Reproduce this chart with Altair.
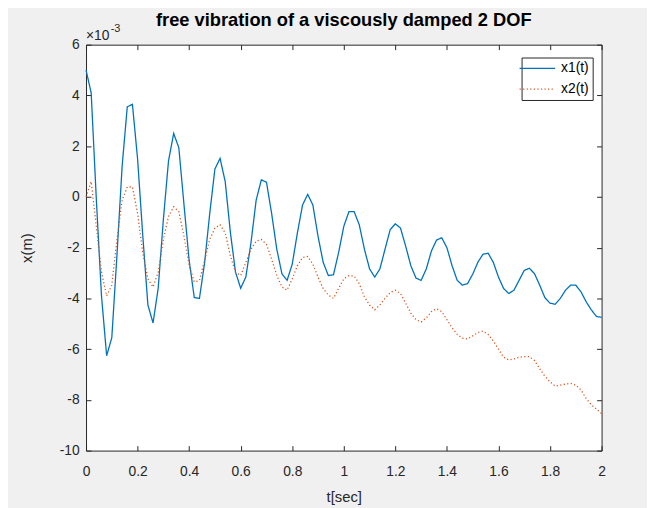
import altair as alt
import pandas as pd

# ---------------- data (displacements in units of 1e-3 m) ----------------
t_sec = [0.00, 0.02, 0.04, 0.06, 0.08, 0.10, 0.12, 0.14, 0.16, 0.18,
         0.20, 0.22, 0.24, 0.26, 0.28, 0.30, 0.32, 0.34, 0.36, 0.38,
         0.40, 0.42, 0.44, 0.46, 0.48, 0.50, 0.52, 0.54, 0.56, 0.58,
         0.60, 0.62, 0.64, 0.66, 0.68, 0.70, 0.72, 0.74, 0.76, 0.78,
         0.80, 0.82, 0.84, 0.86, 0.88, 0.90, 0.92, 0.94, 0.96, 0.98,
         1.00, 1.02, 1.04, 1.06, 1.08, 1.10, 1.12, 1.14, 1.16, 1.18,
         1.20, 1.22, 1.24, 1.26, 1.28, 1.30, 1.32, 1.34, 1.36, 1.38,
         1.40, 1.42, 1.44, 1.46, 1.48, 1.50, 1.52, 1.54, 1.56, 1.58,
         1.60, 1.62, 1.64, 1.66, 1.68, 1.70, 1.72, 1.74, 1.76, 1.78,
         1.80, 1.82, 1.84, 1.86, 1.88, 1.90, 1.92, 1.94, 1.96, 1.98,
         2.00]

x1_vals = [5.0, 4.1, -0.1, -3.9, -6.26, -5.55, -2.3, 1.2, 3.55, 3.65,
           1.5, -1.5, -4.26, -4.97, -3.6, -0.9, 1.42, 2.5, 1.94, -0.3,
           -2.5, -3.97, -4.0, -2.6, -0.65, 1.1, 1.52, 0.6, -1.4, -2.97,
           -3.6, -3.16, -1.8, -0.13, 0.67, 0.58, -0.65, -2.06, -3.03, -3.29,
           -2.65, -1.42, -0.32, 0.1, -0.32, -1.55, -2.58, -3.1, -3.07, -2.19,
           -1.16, -0.58, -0.58, -1.1, -2.06, -2.84, -3.16, -2.84, -2.06, -1.29,
           -1.06, -1.23, -1.94, -2.71, -3.2, -3.29, -2.84, -2.13, -1.7, -1.61,
           -2.0, -2.71, -3.29, -3.48, -3.42, -3.05, -2.58, -2.26, -2.22, -2.58,
           -3.16, -3.61, -3.81, -3.68, -3.29, -2.9, -2.81, -3.03, -3.48, -3.97,
           -4.19, -4.23, -4.0, -3.68, -3.48, -3.48, -3.74, -4.13, -4.45, -4.71,
           -4.75]

x2_vals = [0.0, 0.6, -1.16, -2.97, -3.9, -3.48, -1.68, -0.13, 0.39, 0.39,
           -0.65, -2.19, -3.23, -3.55, -2.97, -1.68, -0.77, -0.39, -0.58, -1.55,
           -2.71, -3.35, -3.3, -2.5, -1.68, -1.23, -1.1, -1.42, -2.32, -2.97,
           -3.1, -2.58, -2.06, -1.74, -1.68, -1.87, -2.45, -3.1, -3.55, -3.68,
           -3.23, -2.71, -2.39, -2.35, -2.65, -3.16, -3.61, -3.87, -4.0, -3.61,
           -3.23, -3.1, -3.12, -3.42, -3.94, -4.26, -4.45, -4.26, -4.0, -3.77,
           -3.68, -3.81, -4.19, -4.58, -4.84, -4.93, -4.77, -4.52, -4.41, -4.52,
           -4.84, -5.16, -5.42, -5.57, -5.6, -5.48, -5.35, -5.29, -5.42, -5.68,
           -6.0, -6.32, -6.43, -6.39, -6.32, -6.3, -6.3, -6.45, -6.77, -7.07,
           -7.29, -7.46, -7.42, -7.38, -7.35, -7.42, -7.61, -7.94, -8.19, -8.36,
           -8.54]

series_names = ["x1(t)", "x2(t)"]
series_colors = ["#0072BD", "#D95319"]
x_ticks = [0, 0.2, 0.4, 0.6, 0.8, 1, 1.2, 1.4, 1.6, 1.8, 2]
y_ticks = [-10, -8, -6, -4, -2, 0, 2, 4, 6]
title_text = ["free vibration of a viscously damped 2 DOF"]
x_title = "t[sec]"
y_title = "x(m)"
exp_base = ["\u00d710"]
exp_power = ["-3"]

df = pd.DataFrame({
    "t": t_sec + t_sec,
    "x": x1_vals + x2_vals,
    "series": [series_names[0]] * len(t_sec) + [series_names[1]] * len(t_sec),
})

W, H = 522, 411
FONT = "Liberation Sans"
INK = "#262626"

xs = alt.Scale(domain=[0, 2], nice=False, zero=False)
ys = alt.Scale(domain=[-10, 6], nice=False, zero=False)

legend = alt.Legend(
    title=None, orient="none", legendX=441, legendY=13,
    strokeColor=INK, fillColor="white", padding=4, rowPadding=7,
    symbolType="M-3,0H3", symbolSize=144, symbolStrokeWidth=1.3,
    symbolOffset=5, labelOffset=17,
    labelFont=FONT, labelFontSize=14, labelColor="#000000",
)

lines = alt.Chart(df).mark_line(strokeWidth=1.3).encode(
    x=alt.X("t:Q", scale=xs, title=x_title,
            axis=alt.Axis(values=x_ticks, labelExpr="datum.value + ''",
                          ticks=False, tickSize=0, domain=False, grid=False,
                          labelFont=FONT, labelFontSize=14, labelColor=INK,
                          labelPadding=14, labelFlush=False,
                          titleFont=FONT, titleFontSize=15, titleFontWeight="normal",
                          titleColor=INK, titleX=W / 2, titleY=47,
                          titleBaseline="middle", titleAlign="center")),
    y=alt.Y("x:Q", scale=ys, title=y_title,
            axis=alt.Axis(values=y_ticks, labelExpr="datum.value + ''",
                          ticks=False, tickSize=0, domain=False, grid=False,
                          labelFont=FONT, labelFontSize=14, labelColor=INK,
                          labelPadding=7, labelFlush=False,
                          titleFont=FONT, titleFontSize=15, titleFontWeight="normal",
                          titleColor=INK, titleX=-60, titleY=H / 2, titleAngle=270,
                          titleBaseline="middle", titleAlign="center")),
    color=alt.Color("series:N", scale=alt.Scale(domain=series_names, range=series_colors),
                    legend=legend),
    strokeDash=alt.StrokeDash("series:N",
                              scale=alt.Scale(domain=series_names, range=[[1, 0], [1.2, 2.4]]),
                              legend=legend),
)

ticks_in_a = alt.Chart(df).mark_point(opacity=0).encode(
    x=alt.X("t:Q", scale=xs, title=None,
            axis=alt.Axis(orient="top", offset=-H, values=x_ticks, labels=False,
                          ticks=True, tickSize=5, tickColor=INK, tickWidth=1,
                          domain=False, grid=False)),
    y=alt.Y("x:Q", scale=ys, title=None,
            axis=alt.Axis(orient="right", offset=-W, values=y_ticks, labels=False,
                          ticks=True, tickSize=5, tickColor=INK, tickWidth=1,
                          domain=False, grid=False)),
)

ticks_in_b = alt.Chart(df).mark_point(opacity=0).encode(
    x=alt.X("t:Q", scale=xs, title=None,
            axis=alt.Axis(orient="bottom", offset=-H, values=x_ticks, labels=False,
                          ticks=True, tickSize=5, tickColor=INK, tickWidth=1,
                          domain=False, grid=False)),
    y=alt.Y("x:Q", scale=ys, title=None,
            axis=alt.Axis(orient="left", offset=-W, values=y_ticks, labels=False,
                          ticks=True, tickSize=5, tickColor=INK, tickWidth=1,
                          domain=False, grid=False)),
)

exp_df = pd.DataFrame({"base": exp_base, "power": exp_power})
base_txt = alt.Chart(exp_df).mark_text(
    align="left", baseline="middle", font=FONT, fontSize=14, color=INK
).encode(x=alt.value(0), y=alt.value(-9), text="base:N")
pow_txt = alt.Chart(exp_df).mark_text(
    align="left", baseline="middle", font=FONT, fontSize=11, color=INK
).encode(x=alt.value(25), y=alt.value(-16), text="power:N")

title_df = pd.DataFrame({"title": title_text})
title_txt = alt.Chart(title_df).mark_text(
    align="center", baseline="alphabetic", font=FONT, fontSize=18.5,
    fontWeight="bold", color="#000000"
).encode(x=alt.value(W / 2), y=alt.value(-19), text="title:N")

chart = alt.layer(lines, ticks_in_a, ticks_in_b, base_txt, pow_txt, title_txt).resolve_axis(
    x="independent", y="independent"
).properties(
    width=W, height=H,
    padding={"left": 79, "top": 34, "right": 46, "bottom": 55},
    autosize=alt.AutoSizeParams(type="none"),
    background="#f0f0f0",
).configure_view(stroke=INK, strokeWidth=1, fill="white")

chart.save("out.html", embed_options={"renderer": "svg", "actions": False})
